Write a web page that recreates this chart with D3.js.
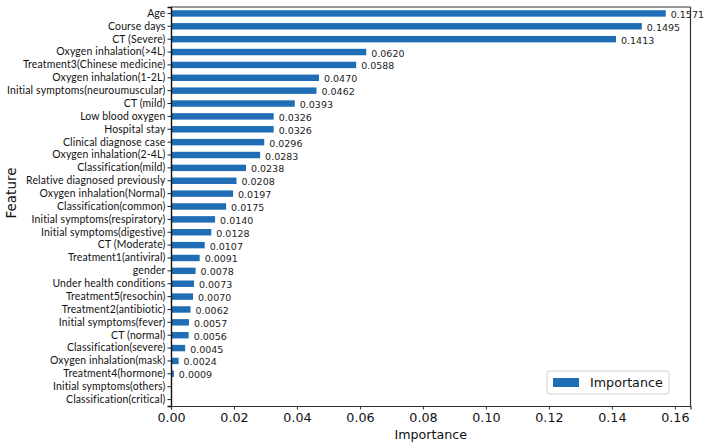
<!DOCTYPE html>
<html>
<head>
<meta charset="utf-8">
<script src="https://cdn.jsdelivr.net/npm/d3@7"></script>
<style>
  html, body { margin: 0; padding: 0; background: #fff; }
  svg { display: block; }
</style>
</head>
<body>
<div id="chart"></div>
<script>
const features = [
  "Age", "Course days", "CT (Severe)", "Oxygen inhalation(>4L)",
  "Treatment3(Chinese medicine)", "Oxygen inhalation(1-2L)",
  "Initial symptoms(neuroumuscular)", "CT (mild)", "Low blood oxygen",
  "Hospital stay", "Clinical diagnose case", "Oxygen inhalation(2-4L)",
  "Classification(mild)", "Relative diagnosed previously",
  "Oxygen inhalation(Normal)", "Classification(common)",
  "Initial symptoms(respiratory)", "Initial symptoms(digestive)",
  "CT (Moderate)", "Treatment1(antiviral)", "gender",
  "Under health conditions", "Treatment5(resochin)",
  "Treatment2(antibiotic)", "Initial symptoms(fever)", "CT (normal)",
  "Classification(severe)", "Oxygen inhalation(mask)",
  "Treatment4(hormone)", "Initial symptoms(others)", "Classification(critical)"
];
const importance = [
  0.1571, 0.1495, 0.1413, 0.0620, 0.0588, 0.0470, 0.0462, 0.0393, 0.0326,
  0.0326, 0.0296, 0.0283, 0.0238, 0.0208, 0.0197, 0.0175, 0.0140, 0.0128,
  0.0107, 0.0091, 0.0078, 0.0073, 0.0070, 0.0062, 0.0057, 0.0056, 0.0045,
  0.0024, 0.0009, 0, 0
];
const xTicks = [0, 0.02, 0.04, 0.06, 0.08, 0.10, 0.12, 0.14, 0.16];
const xDomain = [0, 0.16496];
const seriesName = "Importance";
const xLabel = "Importance";
const yLabel = "Feature";

const W = 708, H = 447;
const margin = {left: 171, right: W - 690.5, top: 7, bottom: H - 406};
const barColor = "#1f6db4";
const tickFont = "'DejaVu Sans', sans-serif";
const catFont = "Lato, 'Open Sans', sans-serif";

const svg = d3.select("#chart").append("svg").attr("width", W).attr("height", H);

const x = d3.scaleLinear().domain(xDomain).range([margin.left, W - margin.right]);
const y = d3.scaleBand().domain(features).range([margin.top, H - margin.bottom]).paddingInner(0.5).paddingOuter(0.25);

// bars
svg.append("g").selectAll("rect").data(features).join("rect")
  .attr("x", x(0))
  .attr("y", d => y(d))
  .attr("width", (d, i) => x(importance[i]) - x(0))
  .attr("height", y.bandwidth())
  .attr("fill", barColor);

// value labels
svg.append("g").selectAll("text").data(features.filter((d, i) => importance[i] > 0)).join("text")
  .attr("x", d => x(importance[features.indexOf(d)]) + 5)
  .attr("y", d => y(d) + y.bandwidth() / 2 + 2)
  .attr("dominant-baseline", "middle")
  .attr("font-family", tickFont)
  .attr("font-size", 9.5)
  .attr("fill", "#222")
  .text(d => importance[features.indexOf(d)].toFixed(4));

// frame
const fr = svg.append("g");
fr.append("line").attr("x1", x.range()[0]).attr("x2", x.range()[1]).attr("y1", margin.top).attr("y2", margin.top).attr("stroke", "#333").attr("stroke-width", 1.2);
fr.append("line").attr("x1", x.range()[1]).attr("x2", x.range()[1]).attr("y1", margin.top).attr("y2", H - margin.bottom).attr("stroke", "#333").attr("stroke-width", 1.2);

// x axis
const xAxis = svg.append("g").attr("transform", `translate(0,${H - margin.bottom})`)
  .call(d3.axisBottom(x).tickValues(xTicks).tickFormat(d3.format(".2f")).tickSize(3.5).tickPadding(3.5));
xAxis.select(".domain").attr("stroke", "#333").attr("stroke-width", 1.2);
xAxis.selectAll(".tick line").attr("stroke", "#333");
xAxis.selectAll("text").attr("font-family", tickFont).attr("font-size", 12.7).attr("fill", "#111");

// y axis
const yAxis = svg.append("g").attr("transform", `translate(${margin.left},0)`)
  .call(d3.axisLeft(y).tickSize(3.5).tickPadding(2));
yAxis.select(".domain").attr("stroke", "#111").attr("stroke-width", 1.4);
yAxis.selectAll(".tick line").attr("stroke", "#222");
const yTexts = yAxis.selectAll("text").attr("font-family", catFont).attr("font-size", 12).attr("fill", "#111")
  .attr("letter-spacing", 0.15);
// fit the longest label to the width seen in the reference
let maxW = 0;
yTexts.each(function() { maxW = Math.max(maxW, this.getComputedTextLength()); });
const fitSize = Math.min(13, 12 * 158 / maxW);
yTexts.attr("font-size", fitSize);

// axis labels
svg.append("text").attr("x", (x.range()[0] + x.range()[1]) / 2).attr("y", 435)
  .attr("text-anchor", "middle").attr("dominant-baseline", "middle")
  .attr("font-family", tickFont).attr("font-size", 12.7).attr("fill", "#111").text(xLabel);
svg.append("text").attr("transform", "translate(12,193) rotate(-90)")
  .attr("text-anchor", "middle").attr("dominant-baseline", "middle")
  .attr("font-family", tickFont).attr("font-size", 13.5).attr("fill", "#111").text(yLabel);

// legend
const lg = svg.append("g");
lg.append("rect").attr("x", 547).attr("y", 371).attr("width", 122).attr("height", 23).attr("rx", 3)
  .attr("fill", "#fff").attr("stroke", "#d0d0d0");
lg.append("rect").attr("x", 553).attr("y", 378).attr("width", 26).attr("height", 9).attr("fill", barColor);
lg.append("text").attr("x", 590).attr("y", 383).attr("dominant-baseline", "middle")
  .attr("font-family", tickFont).attr("font-size", 12.7).attr("fill", "#111").text(seriesName);
</script>
</body>
</html>
